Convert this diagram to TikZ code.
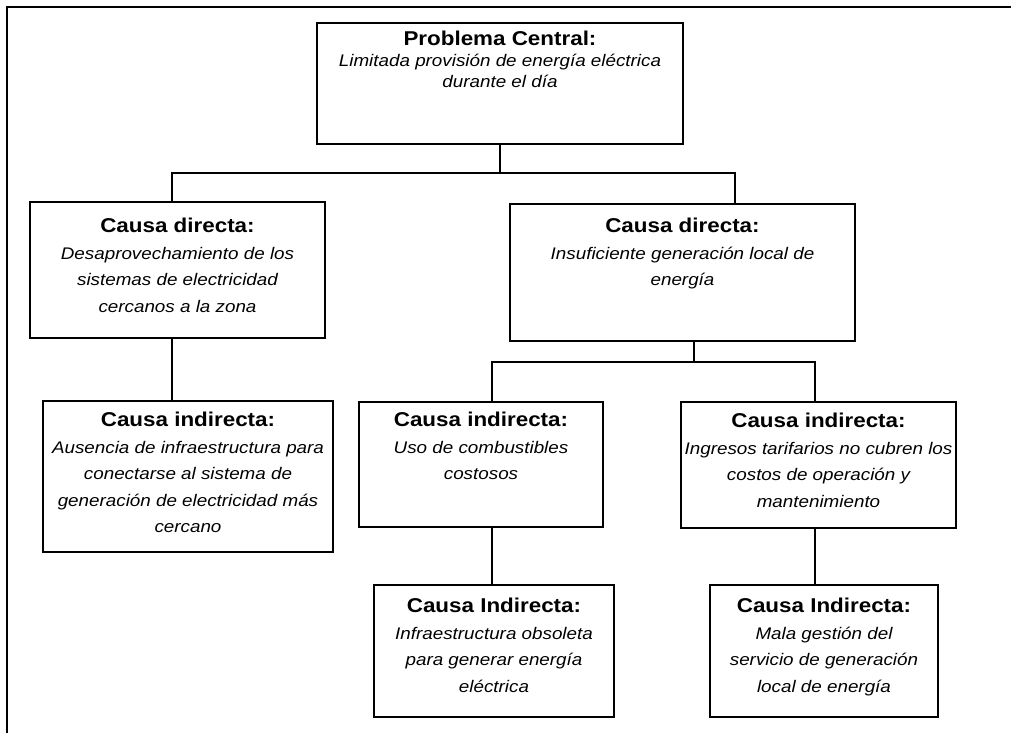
\documentclass[tikz,border=0pt]{standalone}
\usepackage{fontspec}
\setmainfont[FakeStretch=1.12]{Liberation Sans}
\newcommand{\hdfont}{\normalfont\bfseries\fontsize{20}{26}\selectfont}
\newcommand{\txfont}{\itshape\fontsize{16.8}{26.5}\selectfont}
\newcommand{\pcfont}{\itshape\fontsize{16.8}{21}\selectfont}

\begin{document}
\begin{tikzpicture}[x=1pt, y=-1pt,
    box/.style={draw, line width=1.7pt, inner sep=0pt},
    txt/.style={anchor=north, align=center, inner sep=0pt, font=\txfont},
    link/.style={line width=1.3pt},
    frame/.style={line width=1.3pt}]

\useasboundingbox (0,0) rectangle (1011,733);

%% Outer frame
\draw[frame] (1011,7) -- (7,7) -- (7,733);

%% Boxes
\node[box, minimum width=366pt, minimum height=121pt] (pc) at (500,83.5) {};
\node[box, minimum width=295pt, minimum height=136pt] (d1) at (177.5,270) {};
\node[box, minimum width=345pt, minimum height=137pt] (d2) at (682.5,272.5) {};
\node[box, minimum width=290pt, minimum height=151pt] (i1) at (188,476.5) {};
\node[box, minimum width=244pt, minimum height=125pt] (i2) at (481,464.5) {};
\node[box, minimum width=275pt, minimum height=126pt] (i3) at (818.5,465) {};
\node[box, minimum width=240pt, minimum height=132pt] (i4) at (494,651) {};
\node[box, minimum width=228pt, minimum height=132pt] (i5) at (824,651) {};

%% Box texts
\node[txt, font=\pcfont, yshift=-9pt] (pct) at (pc.north)
    {{\hdfont Problema Central:}\\Limitada provisión de energía eléctrica\\durante el día};
\node[txt, yshift=-17pt] (d1t) at (d1.north)
    {{\hdfont Causa directa:}\\Desaprovechamiento de los\\sistemas de electricidad\\cercanos a la zona};
\node[txt, yshift=-15pt] (d2t) at (d2.north)
    {{\hdfont Causa directa:}\\Insuficiente generación local de\\energía};
\node[txt, yshift=-12pt] (i1t) at (i1.north)
    {{\hdfont Causa indirecta:}\\Ausencia de infraestructura para\\conectarse al sistema de\\generación de electricidad más\\cercano};
\node[txt, yshift=-11pt] (i2t) at (i2.north)
    {{\hdfont Causa indirecta:}\\Uso de combustibles\\costosos};
\node[txt, yshift=-12pt] (i3t) at (i3.north)
    {{\hdfont Causa indirecta:}\\Ingresos tarifarios no cubren los\\costos de operación y\\mantenimiento};
\node[txt, yshift=-14pt] (i4t) at (i4.north)
    {{\hdfont Causa Indirecta:}\\Infraestructura obsoleta\\para generar energía\\eléctrica};
\node[txt, yshift=-14pt] (i5t) at (i5.north)
    {{\hdfont Causa Indirecta:}\\Mala gestión del\\servicio de generación\\local de energía};

%% Connectors
\coordinate (b1l) at (172,173);
\coordinate (b1r) at (735,173);
\coordinate (b2l) at (492,362);
\coordinate (b2m) at (694,362);
\coordinate (b2r) at (815,362);

\draw[link] (pc.south) -- (pc.south |- b1l);
\draw[link] (d1.north -| b1l) -- (b1l) -- (b1r) -- (d2.north -| b1r);
\draw[link] (d1.south -| b1l) -- (i1.north -| b1l);

\draw[link] (d2.south -| b2m) -- (b2m);
\draw[link] (i2.north -| b2l) -- (b2l) -- (b2r) -- (i3.north -| b2r);
\draw[link] (i2.south -| b2l) -- (i4.north -| b2l);
\draw[link] (i3.south -| b2r) -- (i5.north -| b2r);

\end{tikzpicture}
\end{document}
